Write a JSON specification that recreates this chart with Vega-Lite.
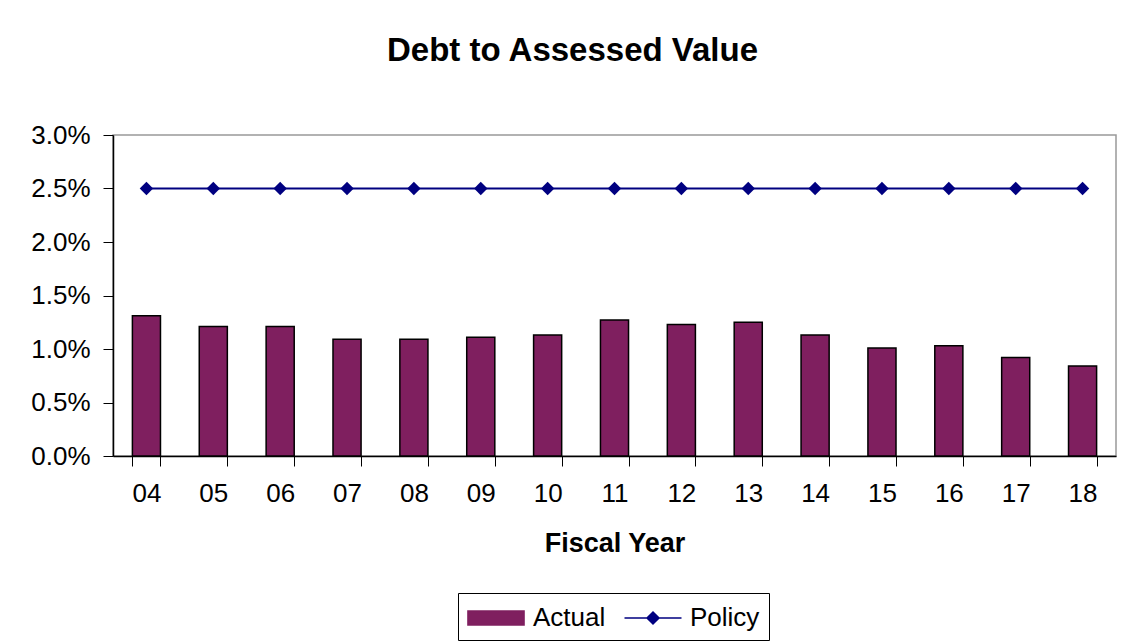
{
  "$schema": "https://vega.github.io/schema/vega-lite/v6.json",
  "width": 1003,
  "height": 321,
  "autosize": {"type": "none"},
  "padding": {"left": 113, "top": 135, "right": 14, "bottom": 186},
  "background": "white",
  "title": {
    "text": "Debt to Assessed Value",
    "font": "Liberation Sans",
    "fontSize": 33,
    "fontWeight": "bold",
    "color": "black",
    "anchor": "middle",
    "dx": -42,
    "offset": 54
  },
  "data": {
    "values": [
      {"year": "04", "actual": 0.0131, "policy": 0.025},
      {"year": "05", "actual": 0.0121, "policy": 0.025},
      {"year": "06", "actual": 0.0121, "policy": 0.025},
      {"year": "07", "actual": 0.0109, "policy": 0.025},
      {"year": "08", "actual": 0.0109, "policy": 0.025},
      {"year": "09", "actual": 0.0111, "policy": 0.025},
      {"year": "10", "actual": 0.0113, "policy": 0.025},
      {"year": "11", "actual": 0.0127, "policy": 0.025},
      {"year": "12", "actual": 0.0123, "policy": 0.025},
      {"year": "13", "actual": 0.0125, "policy": 0.025},
      {"year": "14", "actual": 0.0113, "policy": 0.025},
      {"year": "15", "actual": 0.0101, "policy": 0.025},
      {"year": "16", "actual": 0.0103, "policy": 0.025},
      {"year": "17", "actual": 0.0092, "policy": 0.025},
      {"year": "18", "actual": 0.0084, "policy": 0.025}
    ]
  },
  "encoding": {
    "x": {
      "field": "year",
      "type": "ordinal",
      "sort": null,
      "scale": {"paddingInner": 0.58, "paddingOuter": 0.29},
      "axis": {
        "tickBand": "extent",
        "labelAngle": 0,
        "title": "Fiscal Year",
        "titleFontSize": 27,
        "titleFont": "Liberation Sans",
        "titleFontWeight": "bold",
        "titleColor": "black",
        "titlePadding": 24
      }
    }
  },
  "layer": [
    {
      "mark": {"type": "bar", "stroke": "black", "strokeWidth": 1.5},
      "encoding": {
        "y": {
          "field": "actual",
          "type": "quantitative",
          "title": null,
          "scale": {"domain": [0, 0.03]}
        },
        "color": {
          "datum": "Actual",
          "type": "nominal",
          "scale": {"domain": ["Actual", "Policy"], "range": ["#7F1F5F", "#000080"]},
          "legend": {
            "orient": "none",
            "legendX": 345,
            "legendY": 458,
            "direction": "horizontal",
            "title": null,
            "strokeColor": "black",
            "fillColor": "white",
            "padding": 9,
            "labelFontSize": 26,
            "labelFont": "Liberation Sans",
            "labelColor": "black",
            "symbolSize": 900,
            "symbolOffset": 13,
            "columnPadding": 15,
            "labelOffset": 21,
            "encode": {
              "symbols": {
                "update": {
                  "shape": {"signal": "datum.value === 'Actual' ? 'M-1.87,-0.47H1.87V0.47H-1.87Z' : 'M-1.9,0H1.9M0,-0.4L0.4,0L0,0.4L-0.4,0Z'"},
                  "fill": {"signal": "datum.value === 'Actual' ? '#7F1F5F' : '#000080'"},
                  "stroke": {"signal": "datum.value === 'Actual' ? 'black' : '#000080'"},
                  "strokeWidth": {"value": 1.5},
                  "size": {"value": 900},
                  "opacity": {"value": 1}
                }
              }
            }
          }
        }
      }
    },
    {
      "mark": {
        "type": "line",
        "strokeWidth": 2,
        "point": {"shape": "diamond", "size": 180, "filled": true, "opacity": 1}
      },
      "encoding": {
        "y": {"field": "policy", "type": "quantitative", "title": null},
        "color": {
          "datum": "Policy",
          "type": "nominal",
          "legend": {
            "orient": "none",
            "legendX": 345,
            "legendY": 458,
            "direction": "horizontal",
            "title": null,
            "strokeColor": "black",
            "fillColor": "white",
            "padding": 9,
            "labelFontSize": 26,
            "labelFont": "Liberation Sans",
            "labelColor": "black",
            "symbolSize": 900,
            "symbolOffset": 13,
            "columnPadding": 15,
            "labelOffset": 21,
            "encode": {
              "symbols": {
                "update": {
                  "shape": {"signal": "datum.value === 'Actual' ? 'M-1.87,-0.47H1.87V0.47H-1.87Z' : 'M-1.9,0H1.9M0,-0.4L0.4,0L0,0.4L-0.4,0Z'"},
                  "fill": {"signal": "datum.value === 'Actual' ? '#7F1F5F' : '#000080'"},
                  "stroke": {"signal": "datum.value === 'Actual' ? 'black' : '#000080'"},
                  "strokeWidth": {"value": 1.5},
                  "size": {"value": 900},
                  "opacity": {"value": 1}
                }
              }
            }
          }
        }
      }
    }
  ],
  "config": {
    "view": {"stroke": "#999999", "strokeWidth": 1.5},
    "axis": {
      "grid": false,
      "tickSize": 10,
      "tickColor": "black",
      "domainColor": "black",
      "domainWidth": 1.5,
      "labelFontSize": 26,
      "labelFont": "Liberation Sans",
      "labelColor": "black"
    },
    "axisX": {"labelPadding": 14},
    "axisY": {"format": ".1%", "values": [0, 0.005, 0.01, 0.015, 0.02, 0.025, 0.03], "labelPadding": 13}
  }
}
